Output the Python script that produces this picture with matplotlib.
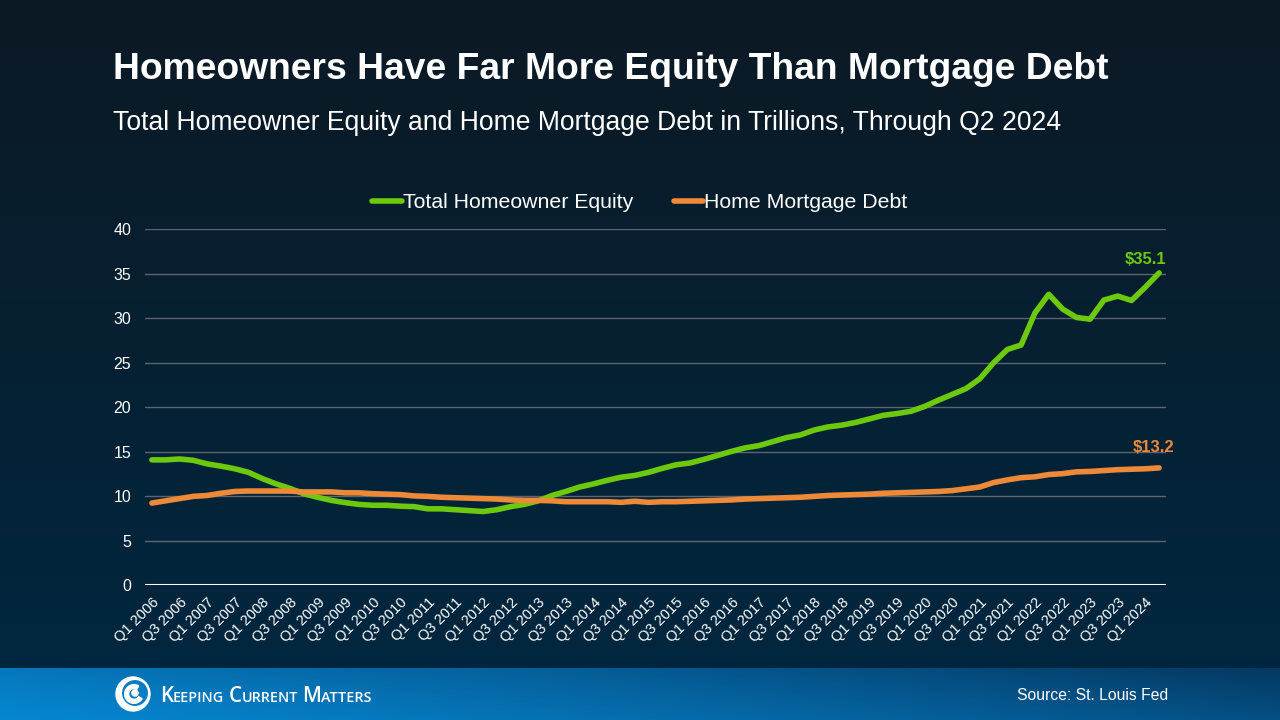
import numpy as np
import matplotlib
matplotlib.use("Agg")
import matplotlib.pyplot as plt
from matplotlib import font_manager
from matplotlib.patches import Circle, Wedge

plt.rcParams["font.family"] = ["Liberation Sans", "DejaVu Sans"]

# ---- data (trillions of dollars, quarterly Q1 2006 .. Q2 2024) ----
quarters = [f"Q{q} {y}" for y in range(2006, 2025) for q in (1, 2, 3, 4)][:74]
equity = [14.1, 14.1, 14.2, 14.05, 13.65, 13.4, 13.1, 12.7, 12.0, 11.4,
          10.9, 10.3, 9.9, 9.55, 9.3, 9.1, 9.0, 9.0, 8.9, 8.85,
          8.6, 8.6, 8.5, 8.4, 8.3, 8.5, 8.85, 9.1, 9.5, 10.1,
          10.55, 11.05, 11.4, 11.8, 12.15, 12.35, 12.7, 13.15, 13.55, 13.75,
          14.15, 14.6, 15.05, 15.45, 15.7, 16.15, 16.6, 16.9, 17.45, 17.8,
          18.0, 18.3, 18.7, 19.1, 19.3, 19.55, 20.1, 20.8, 21.45, 22.1,
          23.2, 25.0, 26.5, 27.0, 30.6, 32.7, 31.05, 30.1, 29.9, 32.05,
          32.5, 32.0, 33.5, 35.1]
debt = [9.25, 9.5, 9.75, 10.0, 10.1, 10.35, 10.55, 10.6, 10.6, 10.6,
        10.6, 10.5, 10.5, 10.5, 10.4, 10.4, 10.3, 10.25, 10.2, 10.05,
        10.0, 9.9, 9.85, 9.8, 9.75, 9.7, 9.6, 9.55, 9.55, 9.5,
        9.4, 9.4, 9.4, 9.4, 9.33, 9.45, 9.33, 9.4, 9.4, 9.45,
        9.5, 9.55, 9.6, 9.7, 9.75, 9.8, 9.85, 9.9, 10.0, 10.1,
        10.15, 10.2, 10.25, 10.35, 10.4, 10.45, 10.5, 10.55, 10.65, 10.85,
        11.05, 11.55, 11.85, 12.1, 12.2, 12.45, 12.55, 12.75, 12.8, 12.9,
        13.0, 13.05, 13.1, 13.2]
yticks = [0, 5, 10, 15, 20, 25, 30, 35, 40]

GREEN = "#6cc90e"
ORANGE = "#ee8a37"

fig = plt.figure(figsize=(12.8, 7.2), dpi=100)

# ---- background gradients ----
bg = fig.add_axes([0, 0, 1, 1], zorder=-10)
bg.set_axis_off()
top = np.array([0x0c, 0x19, 0x24]) / 255
bot = np.array([0x00, 0x28, 0x42]) / 255
t = np.linspace(0, 1, 256)[:, None]
grad = top * (1 - t) + bot * t
bg.imshow(grad[:, None, :].repeat(2, axis=1), aspect="auto", extent=[0, 1, 0, 1])
# footer band
fy = 1 - 668 / 720
xx, yy = np.meshgrid(np.linspace(0, 1, 400), np.linspace(0, 1, 40))
s = np.clip(0.75 * xx + 0.25 * yy, 0, 1)[..., None]
left = np.array([0x06, 0x86, 0xd0]) / 255
right = np.array([0x04, 0x38, 0x62]) / 255
band = left * (1 - s ** 1.2) + right * s ** 1.2
bg.imshow(band, aspect="auto", extent=[0, 1, 0, fy], origin="lower")
bg.set_xlim(0, 1)
bg.set_ylim(0, 1)

# ---- titles ----
fig.text(113 / 1280, 1 - 79 / 720, "Homeowners Have Far More Equity Than Mortgage Debt",
         color="white", fontsize=26.8, fontweight="bold", va="baseline")
fig.text(113 / 1280, 1 - 130 / 720,
         "Total Homeowner Equity and Home Mortgage Debt in Trillions, Through Q2 2024",
         color="white", fontsize=19.1, va="baseline")

# ---- chart ----
ax = fig.add_axes([145 / 1280, 1 - 585.4 / 720, (1166 - 145) / 1280, (585.4 - 229.3) / 720])
ax.set_facecolor("none")
x = np.arange(len(quarters))
ax.plot(x, equity, color=GREEN, lw=4, solid_capstyle="round", solid_joinstyle="round",
        label="Total Homeowner Equity", zorder=3)
ax.plot(x, debt, color=ORANGE, lw=4, solid_capstyle="round", solid_joinstyle="round",
        label="Home Mortgage Debt", zorder=3)
ax.set_xlim(-0.5, len(quarters) - 0.5)
ax.set_ylim(0, 40)
ax.set_yticks(yticks)
ax.set_xticks(x[::2])
ax.set_xticklabels(quarters[::2], rotation=45, ha="right", rotation_mode="anchor",
                   fontsize=10.5, color="white")
ax.tick_params(axis="both", length=0, colors="white")
ax.tick_params(axis="y", labelsize=11.5, pad=10)
ax.tick_params(axis="x", pad=7)
ax.grid(axis="y", color="#5b6470", lw=1)
ax.set_axisbelow(True)
for sp in ax.spines.values():
    sp.set_visible(False)
ax.axhline(0, color="white", lw=2.2, zorder=2)

ax.annotate(f"${equity[-1]:.1f}", (x[-1], equity[-1]), xytext=(-10, 4),
            textcoords="offset points", ha="center", va="bottom",
            color=GREEN, fontsize=12, fontweight="bold")
ax.annotate(f"${debt[-1]:.1f}", (x[-1], debt[-1]), xytext=(-4, 9),
            textcoords="offset points", ha="center", va="bottom",
            color=ORANGE, fontsize=12, fontweight="bold")

leg = fig.legend(loc="center", bbox_to_anchor=(0.5, 1 - 203 / 720), ncol=2, frameon=False,
                 fontsize=15.3, handlelength=1.4, handletextpad=0.05, columnspacing=1.9)
for txt in leg.get_texts():
    txt.set_color("white")

# ---- footer ----
names = {f.name for f in font_manager.fontManager.ttflist}
src_family = "Liberation Sans Narrow" if "Liberation Sans Narrow" in names else "Liberation Sans"
fig.text(1168 / 1280, 1 - 700 / 720, "Source: St. Louis Fed", color="white",
         fontsize=12.5 if src_family.endswith("Narrow") else 11.3,
         family=src_family, ha="right", va="baseline")

# logo: swirl mark + small-caps wordmark
cx, cy = 133, 720 - 694
r = 17
logo = fig.add_axes([0, 0, 1, 1], zorder=-5)
logo.set_axis_off()
logo.set_xlim(0, 1280)
logo.set_ylim(0, 720)
logo.add_patch(Circle((cx, cy), r, color="white"))
logo.add_patch(Circle((cx + 2, cy + 1), r * 0.72, color="#0a7cc4"))
logo.add_patch(Wedge((cx + 1, cy), r * 0.55, 60, 330, width=4, color="white"))
logo.add_patch(Circle((cx + 2, cy + 1), r * 0.18, color="white"))

renderer = fig.canvas.get_renderer()
xpos = 160.0
base = 720 - 701.5
for word in ["Keeping", "Current", "Matters"]:
    for ch, size in [(word[0], 14.8), (word[1:].upper(), 10.4)]:
        tt = logo.text(xpos, base, ch, color="white", fontsize=size, va="baseline",
                       family=["Open Sans", "DejaVu Sans"], fontweight="semibold")
        bb = tt.get_window_extent(renderer=renderer)
        xpos += bb.width * 1280 / fig.bbox.width
    xpos += 4

fig.savefig("out.png", dpi=100, facecolor=fig.get_facecolor())
